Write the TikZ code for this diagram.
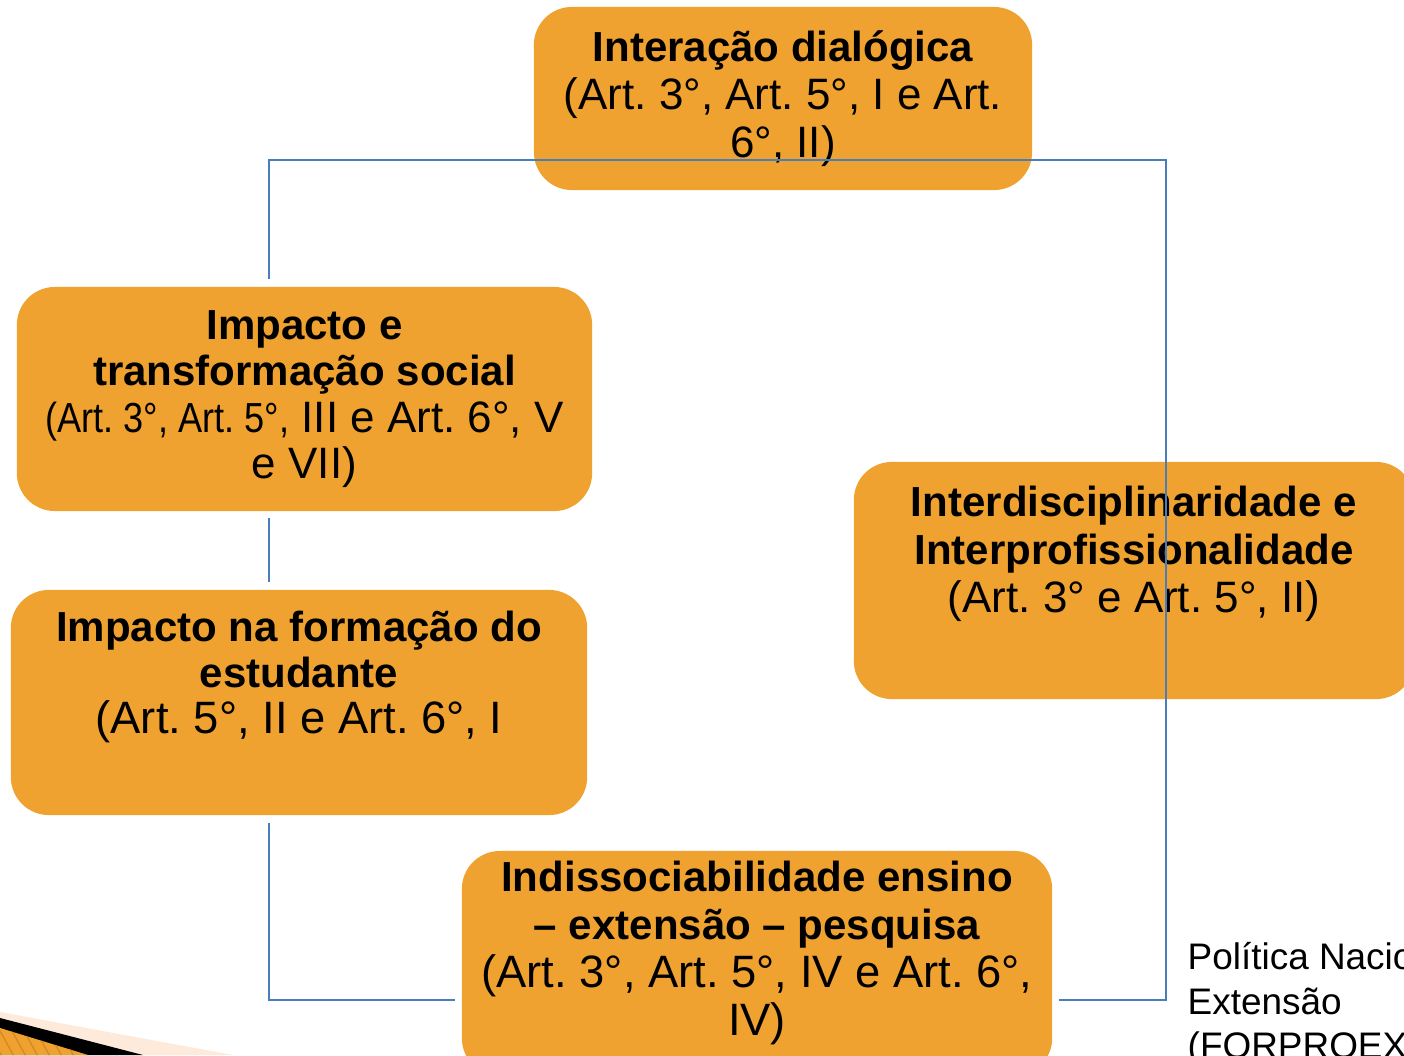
\documentclass[tikz,border=0pt]{standalone}
\usepackage{fontspec}
\setmainfont{Liberation Sans}
\newfontfamily\estreita[FakeStretch=0.86]{Liberation Sans}
\usetikzlibrary{positioning}
\frenchspacing

\definecolor{laranja}{RGB}{240,162,48}
\definecolor{laranjaesc}{RGB}{214,138,36}
\definecolor{azul}{RGB}{74,126,187}
\definecolor{pessego}{RGB}{253,234,218}

\newcommand{\passo}{13.66pt}
\newcommand{\tit}{\fontsize{11.95pt}{\passo}\selectfont\bfseries}
\newcommand{\art}{\fontsize{12.5pt}{\passo}\selectfont\mdseries}
\newcommand{\artp}{\fontsize{11.95pt}{\passo}\selectfont\mdseries}
\newcommand{\artg}{\fontsize{12.9pt}{\passo}\selectfont\mdseries}

\begin{document}
\begin{tikzpicture}[x=0.01cm, y=-0.01cm, node distance=0.24cm,
    caixa/.style={fill=laranja, rounded corners=0.38cm, inner sep=0pt},
    texto/.style={align=center, inner sep=0pt, font=\art},
    apertado/.style={font={\renewcommand{\passo}{#1}\art}},
    liga/.style={draw=azul, line width=0.6pt}]

  \useasboundingbox (0,0) rectangle (1404,1055);

  % Enfeite do canto inferior esquerdo.
  \fill[pessego] (0,1012) -- (233,1055) -- (0,1055) -- cycle;
  \fill[black] (0,1018) -- (143,1055) -- (0,1055) -- cycle;
  \begin{scope}
    \clip (0,1028) -- (88,1055) -- (0,1055) -- cycle;
    \fill[laranja] (0,1020) rectangle (100,1060);
    \foreach \i in {-30,-18,...,100}
      \draw[laranjaesc, line width=0.4pt] (\i,1020) -- ++(22,40);
  \end{scope}

  % Caixas das diretrizes.
  \node[caixa, minimum width=4.98cm, minimum height=1.83cm] (dialog) at (783,98.5) {};
  \node[caixa, minimum width=5.75cm, minimum height=2.24cm] (social) at (304.5,399) {};
  \node[caixa, minimum width=5.76cm, minimum height=2.25cm] (estudante) at (299,702.5) {};
  \node[caixa, minimum width=5.60cm, minimum height=2.37cm] (interdisc) at (1134,580.5) {};
  \node[caixa, minimum width=5.90cm, minimum height=2.25cm] (indiss) at (757,963.5) {};

  % Textos das caixas.
  \node[texto, below=of dialog.north] (dialog-txt)
    {\tit Interação dialógica\\ \art (Art. 3°, Art. 5°, I e Art.\\ \art 6°, II)};
  \node[texto, apertado=13.1pt, below=of social.north] (social-txt)
    {\tit Impacto e\\ \tit transformação social\\
     {\artp\estreita (Art. 3°, Art. 5°,} \art III e Art. 6°, V\\ \art e VII)};
  \node[texto, apertado=13.1pt, below=0.21cm of estudante.north] (estudante-txt)
    {\tit Impacto na formação do\\ \tit estudante\\ \artg (Art. 5°, II e Art. 6°, I};
  \node[texto, below=of interdisc.north] (interdisc-txt)
    {\tit Interdisciplinaridade e\\ \tit Interprofissionalidade\\ \art (Art. 3° e Art. 5°, II)};
  \node[texto, below=0.10cm of indiss.north] (indiss-txt)
    {\tit Indissociabilidade ensino\\ \tit – extensão – pesquisa\\
     \artg (Art. 3°, Art. 5°, IV e Art. 6°,\\ \artg IV)};

  % Fonte.
  \node[align=left, inner sep=0pt, anchor=north west,
        font=\fontsize{10.5pt}{12.6pt}\selectfont] (fonte) at (1187,942)
    {Política Nacional de\\ Extensão\\ (FORPROEX, 2012)};

  % Ligações.
  \coordinate (no) at (269,160);
  \coordinate (ne) at (1166,160);
  \coordinate (se) at (1166,1000);
  \coordinate (so) at (269,1000);

  \draw[liga] ([yshift=0.07cm]social.north -| no) -- (no) -- (ne) -- (se)
    -- ([xshift=0.06cm]indiss.east |- se);
  \draw[liga] ([yshift=-0.06cm]social.south -| no)
    -- ([yshift=0.07cm]estudante.north -| no);
  \draw[liga] ([yshift=-0.07cm]estudante.south -| no) -- (so)
    -- ([xshift=-0.06cm]indiss.west |- so);

\end{tikzpicture}
\end{document}
